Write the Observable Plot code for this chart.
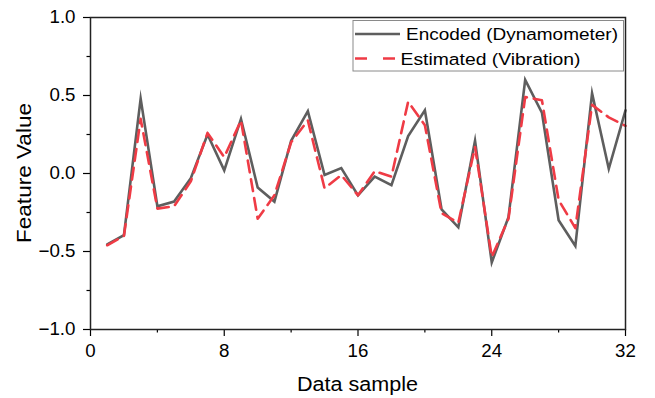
<!DOCTYPE html>
<html>
<head>
<meta charset="utf-8">
<script src="https://cdn.jsdelivr.net/npm/d3@7"></script>
<script src="https://cdn.jsdelivr.net/npm/@observablehq/plot@0.6"></script>
<style>
  html, body { margin: 0; padding: 0; background: #fff; }
  svg { display: block; }
</style>
</head>
<body>
<div id="chart"></div>
<script>
const samples = [1,2,3,4,5,6,7,8,9,10,11,12,13,14,15,16,17,18,19,20,21,22,23,24,25,26,27,28,29,30,31,32];
const encoded = [-0.455,-0.395,0.48,-0.21,-0.18,-0.03,0.25,0.02,0.35,-0.09,-0.18,0.21,0.40,-0.01,0.035,-0.14,-0.02,-0.075,0.24,0.405,-0.23,-0.345,0.21,-0.57,-0.28,0.60,0.39,-0.30,-0.465,0.515,0.03,0.405];
const estimated = [-0.46,-0.40,0.35,-0.225,-0.21,-0.05,0.26,0.105,0.34,-0.29,-0.14,0.20,0.34,-0.095,-0.01,-0.14,0.015,-0.02,0.46,0.31,-0.255,-0.316,0.17,-0.535,-0.29,0.49,0.47,-0.17,-0.35,0.44,0.36,0.305];
const xTicks = [0,8,16,24,32];
const xMinor = [4,12,20,28];
const yTicks = [-1,-0.5,0,0.5,1];
const yMinor = [-0.75,-0.25,0.25,0.75];
const seriesNames = ["Encoded (Dynamometer)", "Estimated (Vibration)"];
const xTitle = "Data sample";
const yTitle = "Feature Value";

const encData = samples.map((s,i) => ({x:s, y:encoded[i]}));
const estData = samples.map((s,i) => ({x:s, y:estimated[i]}));

const GRAY = "#5e5e5e";
const RED = "#ef3b45";
const FONT = "Liberation Sans, Arial, sans-serif";

const plot = Plot.plot({
  width: 655,
  height: 398,
  marginLeft: 90,
  marginRight: 30,
  marginTop: 17,
  marginBottom: 69,
  style: {fontFamily: FONT, background: "#fff", color: "#000"},
  x: {domain: [0, 32]},
  y: {domain: [-1, 1]},
  marks: [
    Plot.axisX({ticks: xTicks, tickSize: 7, tickPadding: 8, fontSize: 18, tickFormat: d3.format("d"), label: null, stroke: "#000", strokeWidth: 1.2}),
    Plot.axisX({ticks: xMinor, tickSize: 3.5, tickFormat: () => "", label: null, stroke: "#000", strokeWidth: 1.2}),
    Plot.axisY({ticks: yTicks, tickSize: 7, tickPadding: 8, fontSize: 18, tickFormat: d3.format(".1f"), label: null, stroke: "#000", strokeWidth: 1.2}),
    Plot.axisY({ticks: yMinor, tickSize: 3.5, tickFormat: () => "", label: null, stroke: "#000", strokeWidth: 1.2}),
    Plot.line(encData, {x: "x", y: "y", stroke: GRAY, strokeWidth: 2.6, strokeLinejoin: "miter", strokeMiterlimit: 10}),
    Plot.line(estData, {x: "x", y: "y", stroke: RED, strokeWidth: 2.6, strokeDasharray: "12,7"}),
    Plot.frame({stroke: "#222", strokeWidth: 1.5})
  ]
});

document.getElementById("chart").appendChild(plot);

const svg = d3.select(plot);

// Axis titles
svg.append("text").attr("class", "title").attr("data-len", 121)
  .attr("x", 357.5).attr("y", 391).attr("text-anchor", "middle")
  .attr("font-family", FONT).attr("font-size", 19.5).attr("fill", "#000")
  .text(xTitle);
svg.append("text").attr("class", "title").attr("data-len", 140)
  .attr("transform", "translate(24,173) rotate(-90)").attr("dy", "0.36em").attr("text-anchor", "middle")
  .attr("font-family", FONT).attr("font-size", 19.5).attr("fill", "#000")
  .text(yTitle);

// Legend inside the plot frame
const lg = svg.append("g").attr("class", "legend").attr("font-family", FONT).attr("font-size", 16.8).attr("text-anchor", "start");
lg.append("rect").attr("x", 353).attr("y", 20.5).attr("width", 270.5).attr("height", 50.5)
  .attr("fill", "#fff").attr("stroke", "#8a8a8a").attr("stroke-width", 1);
lg.append("line").attr("x1", 355).attr("x2", 400).attr("y1", 34).attr("y2", 34)
  .attr("stroke", GRAY).attr("stroke-width", 2.6);
lg.append("text").attr("data-len", 212).attr("x", 406).attr("y", 34).attr("dy", "0.36em").attr("text-anchor", "start").text(seriesNames[0]);
lg.append("line").attr("x1", 355).attr("x2", 397).attr("y1", 58.5).attr("y2", 58.5)
  .attr("stroke", RED).attr("stroke-width", 2.6).attr("stroke-dasharray", "12,16");
lg.append("text").attr("data-len", 180).attr("x", 400.5).attr("y", 58.5).attr("dy", "0.36em").attr("text-anchor", "start").text(seriesNames[1]);

// horizontal stretch to match the wide glyphs of the reference
plot.querySelectorAll("text").forEach(t => {
  if (!t.textContent) return;
  const w = t.getComputedTextLength();
  if (!(w > 0)) return;
  const len = t.getAttribute("data-len") ? +t.getAttribute("data-len") : w * 1.04;
  t.setAttribute("textLength", len.toFixed(1));
  t.setAttribute("lengthAdjust", "spacingAndGlyphs");
});
</script>
</body>
</html>
